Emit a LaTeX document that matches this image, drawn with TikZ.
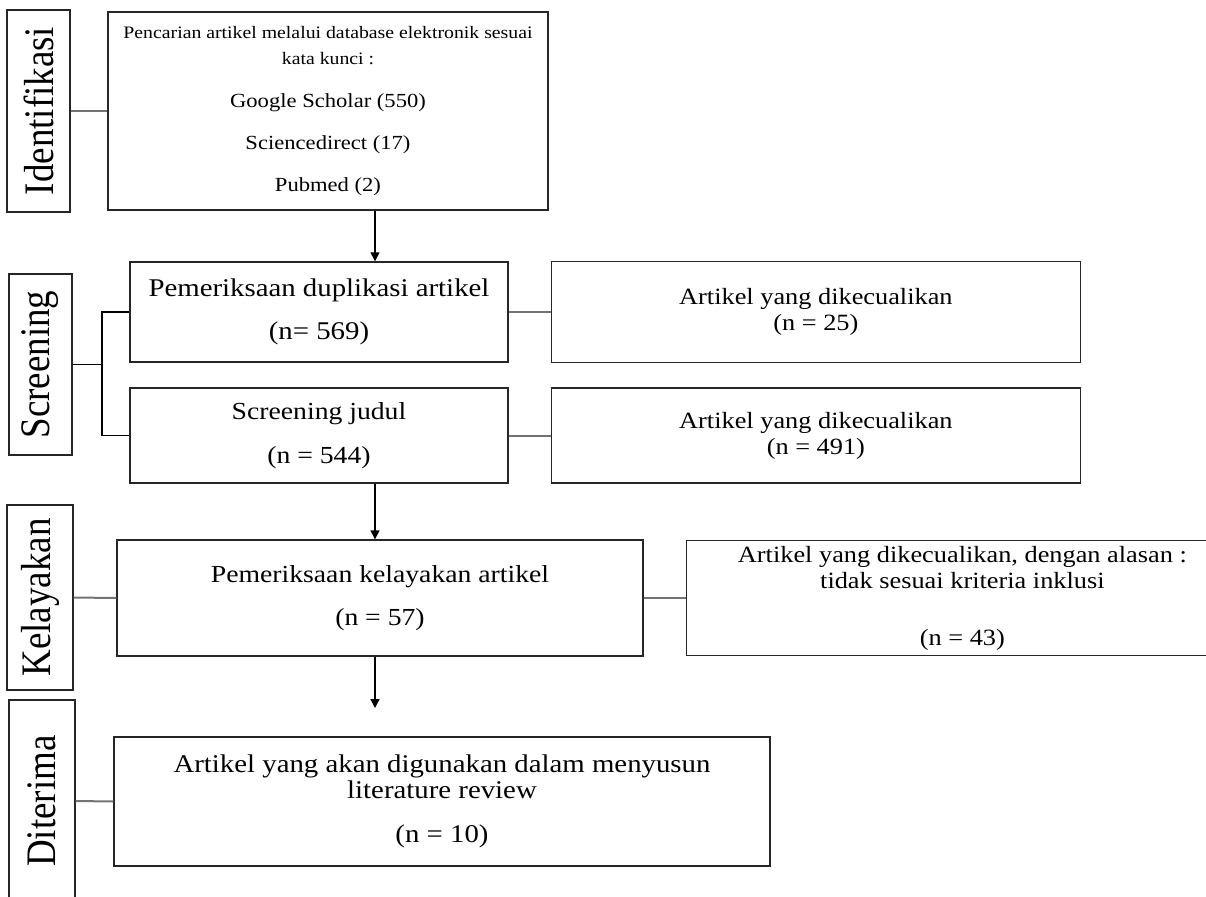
\documentclass[tikz,border=0pt]{standalone}
\usepackage{fontspec}
\setmainfont{Liberation Serif}[FakeStretch=1.13]
\newfontfamily\stagefont{Liberation Serif}[FakeStretch=0.88]
\usetikzlibrary{arrows.meta, positioning}

\begin{document}
\begin{tikzpicture}[
  x=1pt, y=-1pt,
  box/.style={rectangle, draw=black!85, line width=1.4pt, align=center, inner sep=2pt, font=\fontsize{24.5}{26}\selectfont},
  excl/.style={box, font=\fontsize{23.3}{26}\selectfont},
  stage/.style={rectangle, draw=black!85, line width=1.4pt, rotate=90, inner sep=0pt, font=\stagefont\fontsize{42}{42}\selectfont},
  link/.style={draw=black!55, line width=2pt},
  fork/.style={draw=black, line width=1.3pt},
  flow/.style={draw=black, line width=1.4pt, -{Triangle[length=9pt, width=9pt]}}
]
\useasboundingbox (0,0) rectangle (1206,896);

% Stage labels (rotated, so their .south faces right)
\node[stage, minimum width=202pt, minimum height=63pt] (lblId) at (38.5,111) {Identifikasi};
\node[stage, minimum width=181pt, minimum height=63pt] (lblScr) at (40.5,364.5) {Screening};
\node[stage, minimum width=185pt, minimum height=66pt] (lblKel) at (40,597.5) {Kelayakan};
\node[stage, minimum width=202pt, minimum height=66pt] (lblDit) at (42,801) {Diterima};

% Main column
\node[box, minimum width=440pt, minimum height=198pt, font=\fontsize{17.5}{26}\selectfont] (search) at (328,111)
  {Pencarian artikel melalui database elektronik sesuai\\kata kunci :\\[17pt]
   \fontsize{20}{26}\selectfont Google Scholar (550)\\[16pt]
   \fontsize{20}{26}\selectfont Sciencedirect (17)\\[16pt]
   \fontsize{20}{26}\selectfont Pubmed (2)};
\node[box, minimum width=378pt, minimum height=100pt, font=\fontsize{25.5}{26}\selectfont] (duplikasi) at (319,312)
  {Pemeriksaan duplikasi artikel\\[17pt](n= 569)};
\node[box, minimum width=378pt, minimum height=95pt] (judul) at (319,435.5)
  {Screening judul\\[18pt](n = 544)};
\node[box, minimum width=526pt, minimum height=116pt] (kelayakan) at (380,598)
  {Pemeriksaan kelayakan artikel\\[17pt](n = 57)};
\node[box, minimum width=656pt, minimum height=129pt, font=\fontsize{25.5}{26}\selectfont] (diterima) at (442,801.5)
  {Artikel yang akan digunakan dalam menyusun\\literature review\\[18pt](n = 10)};

% Excluded articles
\node[excl, right=42pt of duplikasi, minimum width=529pt, minimum height=101pt] (exclA)
  {Artikel yang dikecualikan\\(n = 25)};
\node[excl, right=42pt of judul, minimum width=529pt, minimum height=95pt] (exclB)
  {Artikel yang dikecualikan\\(n = 491)};
\node[excl, right=42pt of kelayakan, minimum width=552pt, minimum height=115pt] (exclC)
  {Artikel yang dikecualikan, dengan alasan :\\tidak sesuai kriteria inklusi\\[31pt](n = 43)};

\coordinate (spine) at (375,0);
\coordinate (scrfork) at (102,364.5);
\coordinate (accEnd) at (375,708);

% Connectors
\draw[link] (lblId.south) -- (search.west);
\draw[fork] (lblScr.south) -- (scrfork);
\draw[fork] (duplikasi.west) -| (scrfork) |- (judul.west);
\draw[link] (lblKel.south) -- (kelayakan.west);
\draw[link] (lblDit.south) -- (diterima.west);
\draw[link] (duplikasi.east) -- (exclA.west);
\draw[link] (judul.east) -- (exclB.west);
\draw[link] (kelayakan.east) -- (exclC.west);

\draw[flow] (search.south -| spine) -- (duplikasi.north -| spine);
\draw[flow] (judul.south -| spine) -- (kelayakan.north -| spine);
\draw[flow] (kelayakan.south -| spine) -- (accEnd);

\end{tikzpicture}
\end{document}
